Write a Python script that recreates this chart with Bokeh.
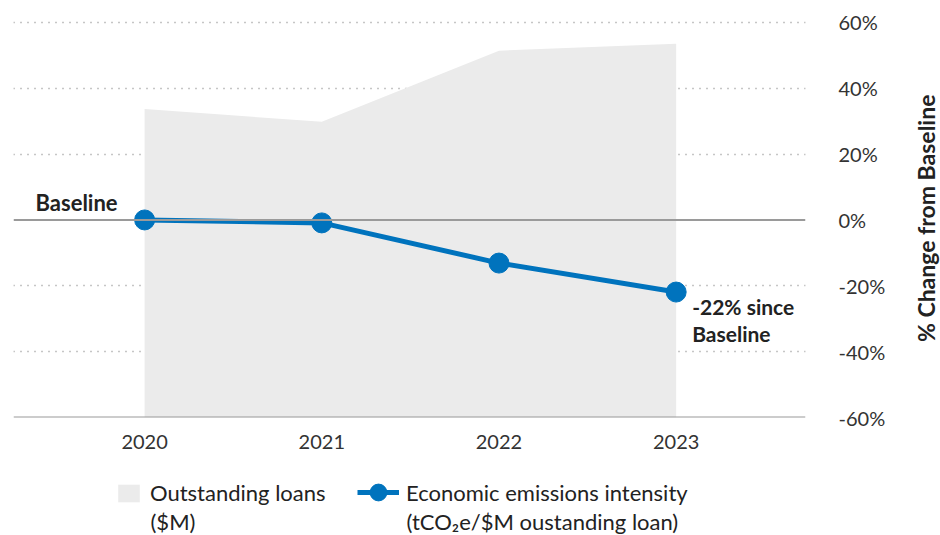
import math
from bokeh.plotting import figure
from bokeh.layouts import column, row
from bokeh.models import (Range1d, FixedTicker, PrintfTickFormatter, Span, Label,
                          Legend, LegendItem)
from bokeh.embed import file_html
from bokeh.resources import INLINE

years = [2020, 2021, 2022, 2023]
# Outstanding loans, shown as height on the chart's % scale (area from bottom)
loans = [33.7, 29.8, 51.4, 53.5]
# Economic emissions intensity, % change from baseline
intensity = [0.0, -0.9, -13.1, -21.9]
y_ticks = [-60, -40, -20, 0, 20, 40, 60]
grid_ticks = [-40, -20, 20, 40, 60]
legend_lines_1 = ["Outstanding loans", "($M)"]
legend_lines_2 = ["Economic emissions intensity", "(tCO\u2082e/$M oustanding loan)"]

FONT = "Lato"
BLUE = "#0073bd"
AREA = "#ebebeb"
TEXT = "#222222"
Y_RANGE = (-60, 63.0)
MAIN_W, MAIN_H = 908, 458
LEG_H = 535 - MAIN_H
BL, BR = 13, 103  # frame borders (left / right)

p = figure(width=MAIN_W, height=MAIN_H, output_backend="svg", toolbar_location=None,
           x_range=Range1d(2019.26, 2023.73), y_range=Range1d(*Y_RANGE),
           y_axis_location="right", min_border_left=BL, min_border_right=BR,
           min_border_top=12, min_border_bottom=41)
p.outline_line_color = None

p.varea(x=years, y1=-60, y2=loans, fill_color=AREA)

p.xgrid.visible = False
p.ygrid.ticker = FixedTicker(ticks=grid_ticks)
p.ygrid.grid_line_color = "#8c8c8c"
p.ygrid.grid_line_dash = "1 6"
p.ygrid.grid_line_width = 1.5

for loc in (0, -60):
    p.add_layout(Span(location=loc, dimension="width", line_color="#9a9a9a", line_width=2))

p.line(years, intensity, line_color=BLUE, line_width=5)
p.scatter(years, intensity, size=20, fill_color=BLUE, line_color=BLUE)

# x axis
xa = p.xaxis[0]
xa.ticker = FixedTicker(ticks=years)
xa.axis_line_color = None
xa.major_tick_line_color = None
xa.minor_tick_line_color = None
xa.major_label_text_font = FONT
xa.major_label_text_font_size = "20px"
xa.major_label_text_color = "#333333"
xa.major_label_standoff = 11

# right y axis
ya = p.yaxis[0]
ya.ticker = FixedTicker(ticks=y_ticks)
ya.formatter = PrintfTickFormatter(format="%d%%")
ya.axis_line_color = None
ya.major_tick_line_color = None
ya.minor_tick_line_color = None
ya.major_label_text_font = FONT
ya.major_label_text_font_size = "20px"
ya.major_label_text_color = "#333333"
ya.major_label_standoff = 27

p.add_layout(Label(x=2020, y=0, x_offset=-27, y_offset=4, text="Baseline",
                   text_align="right", text_baseline="bottom",
                   text_font=FONT, text_font_style="bold", text_font_size="22px",
                   text_color=TEXT))

p.add_layout(Label(x=2023, y=-22, x_offset=16, y_offset=-2, text="-22% since\nBaseline",
                   text_align="left", text_baseline="top", text_line_height=1.05,
                   text_font=FONT, text_font_style="bold", text_font_size="21px",
                   text_color=TEXT))

# axis title strip on the right
tf = figure(width=940 - MAIN_W, height=MAIN_H, output_backend="svg", toolbar_location=None,
            x_range=Range1d(0, 1), y_range=Range1d(*Y_RANGE),
            x_axis_location=None, y_axis_location=None, min_border=0,
            min_border_top=12, min_border_bottom=41)
tf.outline_line_color = None
tf.grid.visible = False
tf.add_layout(Label(x=0.55, y=0.5, text="% Change from Baseline", angle=math.pi / 2,
                    text_align="center", text_baseline="middle",
                    text_font=FONT, text_font_style="bold", text_font_size="23px",
                    text_color=TEXT))

# legend strip below the chart; its frame lines up with the chart's frame,
# and its ranges are set in canvas pixels
lg = figure(width=MAIN_W, height=LEG_H, output_backend="svg", toolbar_location=None,
            x_range=Range1d(BL, MAIN_W - BR), y_range=Range1d(0, LEG_H),
            x_axis_location=None, y_axis_location=None, min_border=0,
            min_border_left=BL, min_border_right=BR)
lg.outline_line_color = None
lg.grid.visible = False
# sample renderers only serve as legend swatches (they lie outside the visible range)
d_area = lg.varea(x=[-100, -90], y1=[-100, -100], y2=[-90, -90], fill_color=AREA)
d_line = lg.line(x=[-100, -90], y=[-100, -90], line_color=BLUE, line_width=5)
d_circ = lg.scatter(x=[-100, -90], y=[-100, -90], size=20, fill_color=BLUE, line_color=BLUE)

common = dict(border_line_color=None, background_fill_alpha=0, padding=0, margin=0,
              label_text_font=FONT, label_text_font_size="22px",
              label_text_color=TEXT, orientation="horizontal")
leg1 = Legend(items=[LegendItem(label=legend_lines_1[0], renderers=[d_area])],
              location=(115 - BL, 29), glyph_width=27, glyph_height=22,
              label_standoff=8, **common)
leg2 = Legend(items=[LegendItem(label=legend_lines_2[0], renderers=[d_line, d_circ])],
              location=(357 - BL, 22), glyph_width=42, glyph_height=42,
              label_standoff=7, **common)
lg.add_layout(leg1, "center")
lg.add_layout(leg2, "center")
for xx, txt in ((150, legend_lines_1[1]), (406, legend_lines_2[1])):
    lg.add_layout(Label(x=xx, y=14, text=txt, text_align="left", text_baseline="middle",
                        text_font=FONT, text_font_size="22px", text_color=TEXT))

layout = row(column(p, lg, spacing=0), tf, spacing=0)
open("out.html", "w").write(file_html(layout, INLINE))
